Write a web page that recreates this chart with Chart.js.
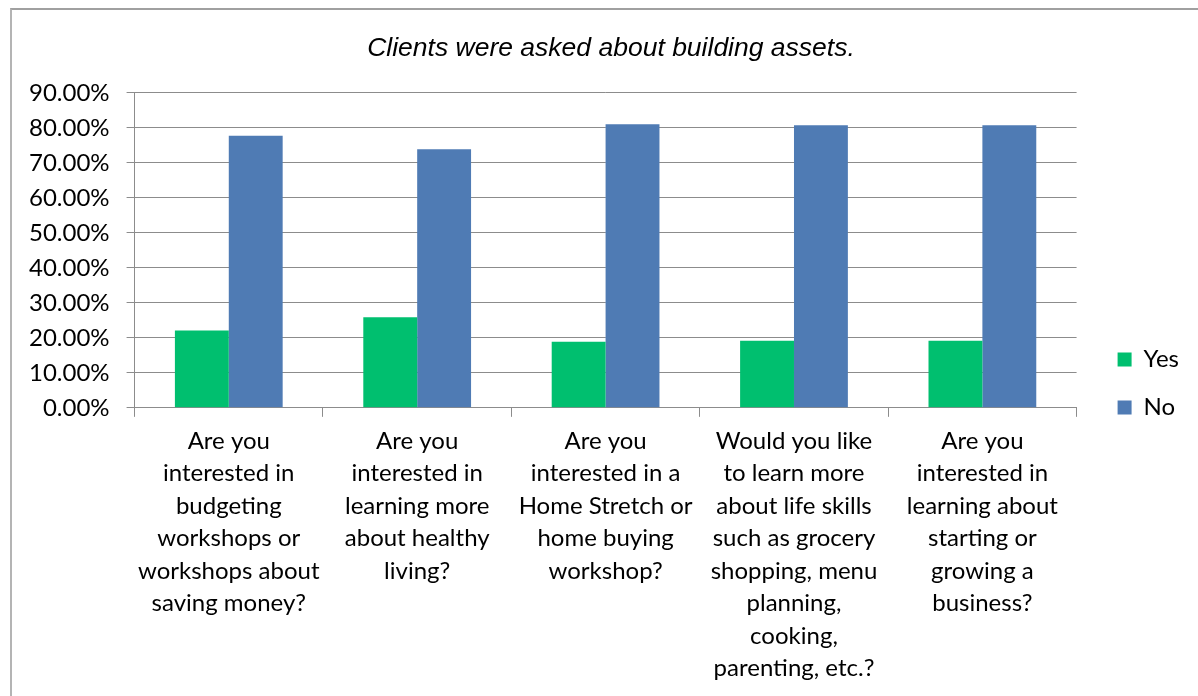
<!DOCTYPE html>
<html>
<head>
<meta charset="utf-8">
<script src="https://cdn.jsdelivr.net/npm/chart.js@4/dist/chart.umd.min.js"></script>
<style>
	html, body { margin: 0; padding: 0; background: #fff; overflow: hidden; }
	#frame {
		position: absolute; left: 10px; top: 8px; width: 1400px; height: 900px;
		border-left: 2px solid #b4b4b4; border-top: 2px solid #a0a0a0;
	}
	#CanvasAssets { position: absolute; left: 0; top: 0; }
</style>
</head>
<body>
<div id="frame"></div>
<canvas id="CanvasAssets" width="1198" height="696"></canvas>
<script>
// question labels, one line per array entry
var questions = [
	['Are you', 'interested in', 'budgeting', 'workshops or', 'workshops about', 'saving money?'],
	['Are you', 'interested in', 'learning more', 'about healthy', 'living?'],
	['Are you', 'interested in a', 'Home Stretch or', 'home buying', 'workshop?'],
	['Would you like', 'to learn more', 'about life skills', 'such as grocery', 'shopping, menu', 'planning,', 'cooking,', 'parenting, etc.?'],
	['Are you', 'interested in', 'learning about', 'starting or', 'growing a', 'business?']
];
var yesShare = [0.221, 0.259, 0.189, 0.192, 0.192];
var noShare = [0.777, 0.739, 0.810, 0.807, 0.807];
var yTicks = [0, 0.1, 0.2, 0.3, 0.4, 0.5, 0.6, 0.7, 0.8, 0.9];

var labelFont = 'Lato, "Open Sans", sans-serif';

var datasets = [];
datasets.push({
	label: 'Yes',
	data: yesShare,
	backgroundColor: '#00bf6f',
	borderWidth: 0,
	categoryPercentage: 0.572,
	barPercentage: 1.0
});
datasets.push({
	label: 'No',
	data: noShare,
	backgroundColor: '#4f7bb4',
	borderWidth: 0,
	categoryPercentage: 0.572,
	barPercentage: 1.0
});

// nudge the legend away from the plot and down towards the axis,
// and centre the title a little further right
const legendOffset = {
	id: 'legendOffset',
	afterLayout: function (chart) {
		var legend = chart.legend;
		if (legend) {
			legend.left += 17;
			legend.right += 17;
			legend.top += 37;
			legend.bottom += 37;
		}
		var title = chart.titleBlock;
		if (title) {
			title.left += 19;
			title.right += 19;
		}
	}
};

const context = document.getElementById('CanvasAssets');
const myChart = new Chart(context, {
	type: 'bar',
	data: {
		labels: questions,
		datasets: datasets
	},
	plugins: [legendOffset],
	options: {
		responsive: false,
		animation: false,
		layout: {
			padding: { left: 12, right: 26, top: 0, bottom: 3 }
		},
		plugins: {
			title: {
				display: true,
				text: 'Clients were asked about building assets.',
				color: '#000',
				font: { family: '"Liberation Sans", Arial, sans-serif', size: 26.5, style: 'italic', weight: 'normal' },
				padding: { top: 33, bottom: 28 }
			},
			legend: {
				position: 'right',
				align: 'center',
				labels: {
					color: '#000',
					font: { family: labelFont, size: 24 },
					boxWidth: 14,
					boxHeight: 14,
					padding: 24
				}
			},
			tooltip: { enabled: false }
		},
		scales: {
			y: {
				min: 0,
				max: 0.9,
				afterBuildTicks: function (axis) {
					axis.ticks = yTicks.map(function (v) { return { value: v }; });
				},
				ticks: {
					color: '#000',
					font: { family: labelFont, size: 24 },
					padding: 17,
					callback: function (value) {
						return (value * 100).toFixed(2) + '%';
					}
				},
				grid: {
					color: '#8c8c8c',
					lineWidth: 1,
					tickLength: 8
				},
				border: { color: '#8c8c8c', width: 1 }
			},
			x: {
				ticks: {
					color: '#000',
					font: { family: labelFont, size: 24, lineHeight: 1.355 },
					maxRotation: 0,
					autoSkip: false,
					padding: 8
				},
				grid: {
					offset: true,
					drawOnChartArea: false,
					color: '#8c8c8c',
					tickLength: 9
				},
				border: { color: '#8c8c8c', width: 1 }
			}
		}
	}
});
</script>
</body>
</html>
